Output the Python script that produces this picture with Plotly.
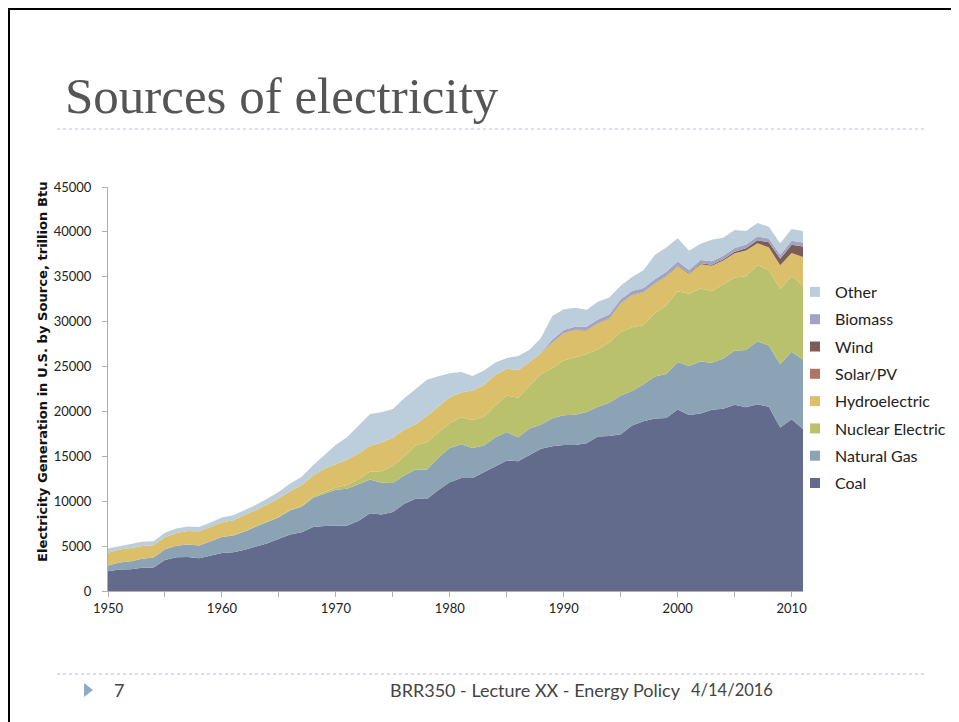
import plotly.graph_objects as go

years = list(range(1950, 2012))

coal = [2199, 2395, 2421, 2587, 2610, 3458, 3750, 3790, 3640, 3920,
        4228, 4303, 4589, 4963, 5319, 5821, 6302, 6537, 7130, 7227,
        7227, 7299, 7811, 8658, 8534, 8786, 9720, 10262, 10238, 11260,
        12123, 12583, 12582, 13213, 13917, 14542, 14444, 15173, 15850, 16137,
        16261, 16249, 16466, 17196, 17261, 17466, 18429, 18905, 19216, 19279,
        20220, 19614, 19783, 20185, 20305, 20737, 20462, 20808, 20513, 18225,
        19133, 18035]

natural_gas = [651, 791, 905, 1014, 1123, 1194, 1283, 1385, 1421, 1628,
               1785, 1892, 2036, 2215, 2395, 2395, 2696, 2834, 3245, 3596,
               4054, 4099, 4084, 3748, 3519, 3240, 3152, 3284, 3297, 3613,
               3810, 3768, 3342, 3001, 3220, 3160, 2691, 2935, 2709, 3110,
               3309, 3378, 3466, 3314, 3716, 4302, 3861, 4126, 4675, 4902,
               5293, 5458, 5767, 5246, 5595, 6015, 6375, 7005, 6829, 7022,
               7528, 7712]

nuclear = [0, 0, 0, 0, 0, 0, 0, 0, 2, 2,
           6, 20, 26, 38, 40, 43, 64, 88, 142, 154,
           239, 413, 584, 910, 1272, 1900, 2111, 2702, 3024, 2776,
           2739, 3008, 3131, 3203, 3553, 4076, 4380, 4754, 5587, 5602,
           6104, 6422, 6479, 6410, 6694, 7075, 7087, 6597, 7068, 7610,
           7862, 8029, 8145, 7960, 8223, 8161, 8215, 8459, 8427, 8356,
           8434, 8269]

hydro = [1415, 1424, 1466, 1413, 1360, 1360, 1435, 1516, 1592, 1548,
         1608, 1656, 1816, 1771, 1886, 2059, 2062, 2347, 2349, 2648,
         2634, 2824, 2864, 2861, 3177, 3155, 2976, 2333, 2937, 2931,
         2900, 2758, 3266, 3527, 3386, 2970, 3071, 2635, 2334, 2837,
         3046, 3016, 2617, 2892, 2683, 3205, 3590, 3640, 3297, 3268,
         2811, 2242, 2689, 2825, 2690, 2703, 2869, 2446, 2511, 2669,
         2539, 3171]

solar = [0] * 34 + [0, 0, 0, 1, 2, 3,
                    4, 5, 5, 5, 5, 5, 5, 5, 5, 5,
                    5, 6, 6, 5, 6, 6, 5, 6, 9, 9,
                    12, 18]

wind = [0] * 33 + [0, 1, 1, 2, 2, 1, 22,
                   29, 31, 29, 31, 36, 33, 33, 34, 31, 46,
                   57, 70, 105, 115, 142, 178, 264, 341, 546, 721,
                   923, 1168]

biomass = [5] * 20 + [4, 4, 4, 4, 4, 4, 4, 4, 4, 4,
                      4, 3, 3, 7, 8, 14, 15, 14, 21, 314,
                      317, 345, 374, 382, 399, 405, 413, 431, 426, 439,
                      453, 337, 380, 397, 388, 406, 412, 423, 435, 439,
                      441, 437]

other = [472, 412, 443, 480, 440, 471, 479, 475, 482, 527,
         554, 566, 577, 602, 660, 726, 858, 924, 1144, 1552,
         2123, 2501, 3118, 3535, 3392, 3200, 3515, 3938, 4018, 3323,
         2690, 2260, 1620, 1610, 1370, 1190, 1560, 1370, 1670, 2600,
         2300, 2100, 1900, 2000, 1900, 1500, 1550, 2000, 2700, 2700,
         2600, 2150, 1800, 2400, 2000, 2000, 1500, 1500, 1300, 1300,
         1300, 1300]

series_names = ["Coal", "Natural Gas", "Nuclear Electric", "Hydroelectric",
                "Solar/PV", "Wind", "Biomass", "Other"]
series_values = [coal, natural_gas, nuclear, hydro, solar, wind, biomass, other]
series_colors = ["#636b8c", "#8ca3b6", "#b9c16d", "#dcbf6b",
                 "#b27462", "#7b5c56", "#a2a3c3", "#bccddc"]

x_tickvals = list(range(1950, 2011, 5))
x_ticktext = [str(v) if v % 10 == 0 else "" for v in x_tickvals]
y_tickvals = list(range(0, 45001, 5000))
y_ticktext = [str(v) for v in y_tickvals]

# The page adds an 8px body margin, so the figure is 8px smaller and
# positions below are given in window (screen) pixels.
W, H = 951, 714
L, T = 100, 179
PW, PH = 695, 404
R, B = W - L - PW, H - T - PH
SX0, SY1 = 108, 591  # screen position of plot-area left / bottom


def px(x):
    return (x - SX0) / PW


def py(y):
    return (SY1 - y) / PH


fig = go.Figure()
for name, vals, col in zip(series_names, series_values, series_colors):
    fig.add_trace(go.Scatter(
        x=years, y=vals, name=name, mode="lines",
        line=dict(width=0, color=col), fillcolor=col,
        stackgroup="one", showlegend=False,
    ))

# legend entries (small squares), top to bottom: Other ... Coal
for name, col in reversed(list(zip(series_names, series_colors))):
    fig.add_trace(go.Scatter(
        x=[None], y=[None], name=name, mode="markers",
        marker=dict(symbol="square", size=10, color=col),
        legendgroup=name, showlegend=True,
    ))

label_font = dict(family="Lato, sans-serif", size=13, color="#222222")

fig.update_layout(
    width=W, height=H,
    margin=dict(l=L, r=R, t=T, b=B, pad=0, autoexpand=False),
    paper_bgcolor="white", plot_bgcolor="white",
    showlegend=True,
    legend=dict(
        x=px(795), y=py(275), xanchor="left", yanchor="top",
        traceorder="grouped", tracegroupgap=3.5,
        font=dict(family="Lato, sans-serif", size=16, color="#222222"),
        bgcolor="rgba(0,0,0,0)", itemwidth=30,
    ),
    xaxis=dict(
        range=[1950, 2011], tickvals=x_tickvals, ticktext=x_ticktext,
        showgrid=False, zeroline=False, showline=True, linecolor="#b0b0b0",
        linewidth=1, ticks="outside", ticklen=5, tickcolor="#b0b0b0",
        tickfont=label_font,
    ),
    yaxis=dict(
        range=[0, 45000], tickvals=y_tickvals, ticktext=y_ticktext,
        showgrid=False, zeroline=False, showline=True, linecolor="#b0b0b0",
        linewidth=1, ticks="outside", ticklen=5, tickcolor="#b0b0b0",
        tickfont=label_font, ticklabelstandoff=8,
    ),
)

shapes = [
    # slide border
    dict(type="path", xref="paper", yref="paper",
         path=f"M {px(9)} {py(740)} L {px(9)} {py(9)} L {px(953)} {py(9)} L {px(953)} {py(740)}",
         line=dict(color="black", width=2)),
    # dotted separators
    dict(type="line", xref="paper", yref="paper", x0=px(57), x1=px(925), y0=py(129), y1=py(129),
         line=dict(color="#b4c2d4", width=1, dash="dot")),
    dict(type="line", xref="paper", yref="paper", x0=px(57), x1=px(925), y0=py(674), y1=py(674),
         line=dict(color="#b4c2d4", width=1, dash="dot")),
    # footer triangle
    dict(type="path", xref="paper", yref="paper",
         path=f"M {px(84)} {py(683)} L {px(93)} {py(690)} L {px(84)} {py(697)} Z",
         fillcolor="#8eaac6", line=dict(width=0)),
]

annotations = [
    dict(text="Sources of electricity", xref="paper", yref="paper",
         x=px(63), y=py(126), xanchor="left", yanchor="bottom", showarrow=False,
         font=dict(family="Liberation Serif, serif", size=51, color="#555555")),
    dict(text="<b>Electricity Generation in U.S. by Source, trillion Btu</b>",
         xref="paper", yref="paper", x=px(42), y=py(372), textangle=-90,
         xanchor="center", yanchor="middle", showarrow=False,
         font=dict(family="DejaVu Sans, sans-serif", size=13.1, color="#111111")),
    dict(text="7", xref="paper", yref="paper", x=px(112), y=py(690),
         xanchor="left", yanchor="middle", showarrow=False,
         font=dict(family="Lato, sans-serif", size=18, color="#444444")),
    dict(text="BRR350 - Lecture XX - Energy Policy", xref="paper", yref="paper",
         x=px(388), y=py(690), xanchor="left", yanchor="middle", showarrow=False,
         font=dict(family="Lato, sans-serif", size=18, color="#444444")),
    dict(text="4/14/2016", xref="paper", yref="paper",
         x=px(689), y=py(690), xanchor="left", yanchor="middle", showarrow=False,
         font=dict(family="Lato, sans-serif", size=16.5, color="#444444")),
]

fig.update_layout(shapes=shapes, annotations=annotations)

fig.write_html("out.html")
